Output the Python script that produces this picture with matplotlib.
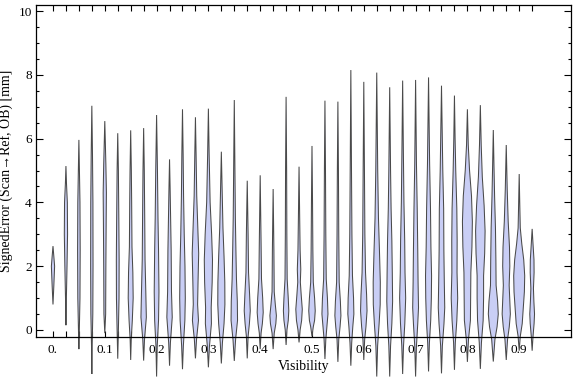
import matplotlib
matplotlib.use("Agg")
import matplotlib.pyplot as plt
from matplotlib.ticker import FixedLocator, NullFormatter

# ---- data ----
visibility = [0.000, 0.025, 0.050, 0.075, 0.100, 0.125, 0.150, 0.175, 0.200, 0.225,
              0.250, 0.275, 0.300, 0.325, 0.350, 0.375, 0.400, 0.425, 0.450, 0.475,
              0.500, 0.525, 0.550, 0.575, 0.600, 0.625, 0.650, 0.675, 0.700, 0.725,
              0.750, 0.775, 0.800, 0.825, 0.850, 0.875, 0.900, 0.925]

# error levels (mm) along each violin, bottom to top
error_levels = [
    [0.8, 1.4, 2.0, 2.3, 2.63],
    [0.15, 1.0, 2.0, 3.0, 4.0, 4.6, 5.14],
    [-0.6, 0.0, 1.0, 2.5, 4.0, 5.0, 5.96],
    [-1.38, -0.5, 0.5, 2.0, 4.0, 5.5, 7.03],
    [-0.1, 0.5, 2.0, 3.5, 4.3, 5.2, 6.55],
    [-0.9, 0.0, 1.0, 2.2, 3.5, 5.0, 6.17],
    [-0.94, -0.3, 0.3, 1.0, 1.8, 2.6, 4.0, 5.0, 6.26],
    [-0.96, -0.3, 0.4, 1.2, 2.2, 3.5, 5.0, 6.33],
    [-1.46, -0.5, 0.3, 1.2, 2.5, 3.5, 5.0, 6.74],
    [-1.12, -0.4, 0.4, 1.2, 2.5, 3.5, 4.5, 5.35],
    [-1.23, -0.5, 0.3, 1.0, 2.0, 3.0, 4.2, 5.5, 6.92],
    [-0.89, -0.3, 0.3, 0.8, 1.5, 2.4, 3.2, 4.2, 5.5, 6.67],
    [-1.17, -0.5, 0.2, 0.7, 1.5, 2.2, 3.0, 4.0, 5.5, 6.94],
    [-1.05, -0.4, 0.2, 0.8, 1.5, 2.3, 3.2, 4.3, 5.59],
    [-0.97, -0.3, 0.3, 0.9, 1.6, 2.5, 3.5, 5.0, 7.21],
    [-0.89, -0.2, 0.2, 0.6, 1.1, 1.8, 3.0, 4.68],
    [-0.6, -0.1, 0.2, 0.55, 1.0, 1.6, 2.8, 4.85],
    [-0.6, -0.1, 0.2, 0.45, 0.8, 1.2, 2.5, 4.42],
    [-0.47, 0.0, 0.3, 0.6, 1.0, 1.6, 3.0, 5.0, 7.31],
    [-0.39, 0.0, 0.3, 0.65, 1.1, 1.5, 1.9, 2.5, 3.5, 5.12],
    [-0.2, 0.1, 0.3, 0.6, 1.0, 1.5, 2.5, 4.0, 5.77],
    [-0.91, -0.3, 0.1, 0.5, 1.0, 1.6, 3.0, 5.0, 7.19],
    [-1.0, -0.3, 0.1, 0.45, 0.9, 1.5, 3.0, 5.0, 7.16],
    [-1.12, -0.4, 0.1, 0.5, 1.0, 1.7, 3.0, 5.0, 8.15],
    [-0.94, -0.3, 0.1, 0.6, 1.1, 1.8, 3.0, 5.0, 7.78],
    [-1.46, -0.5, 0.2, 0.8, 1.5, 2.5, 3.5, 5.0, 8.07],
    [-1.46, -0.5, 0.2, 0.9, 1.8, 2.8, 3.8, 5.0, 7.61],
    [-1.38, -0.5, 0.2, 1.0, 1.8, 2.8, 4.0, 5.5, 7.82],
    [-1.46, -0.5, 0.2, 0.7, 1.5, 2.5, 3.8, 5.2, 7.84],
    [-1.3, -0.4, 0.3, 1.0, 1.7, 2.6, 3.8, 5.2, 7.92],
    [-1.36, -0.5, 0.2, 0.7, 1.5, 2.5, 3.8, 5.0, 7.66],
    [-1.25, -0.4, 0.3, 1.0, 1.8, 2.8, 3.8, 5.0, 6.0, 7.35],
    [-1.0, -0.3, 0.3, 1.0, 1.8, 2.6, 3.4, 4.2, 5.0, 5.8, 6.92],
    [-1.22, -0.4, 0.3, 1.0, 1.7, 2.4, 3.1, 3.9, 4.8, 5.8, 7.05],
    [-0.99, -0.3, 0.1, 0.5, 0.9, 1.4, 2.2, 3.2, 4.2, 5.2, 6.27],
    [-0.94, -0.3, 0.1, 0.5, 1.0, 1.4, 2.0, 2.6, 3.4, 4.4, 5.8],
    [-0.65, -0.2, 0.2, 0.7, 1.2, 1.7, 2.2, 2.7, 3.2, 4.0, 4.89],
    [-0.65, -0.2, 0.2, 0.5, 0.9, 1.3, 1.8, 2.2, 2.7, 3.17],
]

# relative density (violin half-width) at each level
density = [
    [0, 0.8, 1.5, 0.8, 0],
    [0, 0.4, 1.0, 1.5, 1.3, 0.5, 0],
    [0, 0.4, 1.0, 1.2, 1.0, 0.5, 0],
    [0, 0.3, 0.9, 1.1, 1.0, 0.6, 0],
    [0, 0.8, 1.0, 1.3, 1.5, 1.0, 0],
    [0, 0.6, 1.2, 1.3, 1.0, 0.6, 0],
    [0, 0.5, 1.5, 2.3, 2.0, 1.2, 0.9, 0.6, 0],
    [0, 0.8, 2.5, 2.0, 1.3, 1.0, 0.6, 0],
    [0, 0.6, 1.8, 2.2, 1.8, 1.3, 0.8, 0],
    [0, 0.8, 2.5, 1.8, 1.5, 1.0, 0.5, 0],
    [0, 0.8, 2.2, 2.6, 2.3, 1.6, 1.0, 0.6, 0],
    [0, 1.0, 2.8, 2.0, 2.4, 3.0, 2.2, 1.2, 0.6, 0],
    [0, 1.0, 2.8, 2.6, 3.5, 3.8, 3.0, 1.6, 0.7, 0],
    [0, 1.0, 2.5, 3.3, 3.2, 2.5, 1.5, 0.8, 0],
    [0, 1.2, 3.0, 2.8, 2.0, 1.5, 1.0, 0.6, 0],
    [0, 0.8, 2.0, 2.8, 2.2, 1.2, 0.8, 0],
    [0, 0.8, 2.0, 2.8, 2.3, 1.2, 0.8, 0],
    [0, 1.0, 2.5, 3.0, 2.0, 1.0, 0.7, 0],
    [0, 0.8, 2.0, 2.5, 2.0, 1.0, 0.7, 0.5, 0],
    [0, 1.0, 2.4, 3.0, 2.0, 1.2, 1.6, 1.0, 0.6, 0],
    [0, 1.2, 2.4, 3.0, 2.4, 1.2, 0.8, 0.5, 0],
    [0, 0.8, 1.8, 2.8, 2.3, 1.2, 0.8, 0.5, 0],
    [0, 0.8, 2.0, 2.8, 2.3, 1.2, 0.8, 0.5, 0],
    [0, 0.8, 1.8, 2.8, 2.5, 1.5, 1.0, 0.6, 0],
    [0, 0.8, 2.0, 3.0, 2.6, 1.6, 1.0, 0.6, 0],
    [0, 0.8, 2.2, 3.2, 3.3, 2.5, 1.6, 0.9, 0],
    [0, 0.8, 2.0, 2.7, 2.4, 2.0, 1.3, 0.8, 0],
    [0, 0.8, 2.0, 2.8, 2.2, 1.9, 1.2, 0.7, 0],
    [0, 0.8, 2.0, 2.7, 2.3, 2.0, 1.5, 0.8, 0],
    [0, 0.8, 2.0, 2.6, 2.8, 2.2, 1.8, 1.0, 0],
    [0, 0.8, 2.3, 3.0, 2.6, 2.2, 2.0, 1.2, 0],
    [0, 0.8, 2.2, 3.0, 2.4, 2.5, 2.2, 1.2, 0.6, 0],
    [0, 1.0, 2.8, 3.0, 3.2, 4.2, 4.6, 3.8, 2.0, 0.8, 0],
    [0, 1.0, 2.6, 3.0, 3.0, 4.0, 4.4, 3.5, 1.8, 0.8, 0],
    [0, 1.5, 3.5, 4.6, 4.0, 2.6, 2.4, 2.0, 1.2, 0.6, 0],
    [0, 1.2, 2.8, 3.8, 3.2, 2.7, 3.3, 3.0, 1.8, 0.9, 0],
    [0, 1.0, 2.8, 3.8, 4.8, 5.1, 4.2, 2.4, 1.0, 0.5, 0],
    [0, 0.8, 1.8, 2.2, 1.6, 1.2, 1.8, 1.7, 0.8, 0],
]

x_tick_values = [0.0, 0.1, 0.2, 0.3, 0.4, 0.5, 0.6, 0.7, 0.8, 0.9]
x_tick_labels = ["0.", "0.1", "0.2", "0.3", "0.4", "0.5", "0.6", "0.7", "0.8", "0.9"]
y_tick_values = [0, 2, 4, 6, 8, 10]
y_tick_labels = ["0", "2", "4", "6", "8", "10"]

# ---- style ----
plt.rcParams["font.family"] = ["Liberation Serif", "DejaVu Serif"]
fill_color = "#c9cef5"
edge_color = "#4a4a4a"
width_scale = 1.0 / 480.0   # relative density unit -> x data units

fig = plt.figure(figsize=(5.76, 3.77), dpi=100)
ax = fig.add_axes([36 / 576, 1 - 337 / 377, (571 - 36) / 576, (337 - 5) / 377])

for pos, levels, dens in zip(visibility, error_levels, density):
    right = [pos + d * width_scale for d in dens]
    left = [pos - d * width_scale for d in dens]
    xs = right + left[::-1]
    ys = list(levels) + list(levels)[::-1]
    ax.fill(xs, ys, facecolor=fill_color, edgecolor=edge_color,
            linewidth=0.75, clip_on=False, zorder=2)

ax.set_xlim(-0.0328, 1.0)
ax.set_ylim(-0.22, 10.19)

ax.xaxis.set_major_locator(FixedLocator(x_tick_values))
ax.set_xticklabels(x_tick_labels)
ax.xaxis.set_minor_locator(FixedLocator(visibility))
ax.xaxis.set_minor_formatter(NullFormatter())

ax.yaxis.set_major_locator(FixedLocator(y_tick_values))
ax.set_yticklabels(y_tick_labels)
ax.yaxis.set_minor_locator(FixedLocator([v * 0.5 for v in range(0, 21)]))
ax.yaxis.set_minor_formatter(NullFormatter())

ax.tick_params(which="both", direction="in", top=True, right=True,
               labelsize=9.5, width=0.8, color="black")
ax.tick_params(axis="x", which="major", length=4, pad=5)
ax.tick_params(axis="x", which="minor", length=4)
ax.tick_params(axis="y", which="major", length=5, pad=3)
ax.tick_params(axis="y", which="minor", length=2.5)

for s in ax.spines.values():
    s.set_linewidth(0.9)
    s.set_zorder(3)

ax.set_xlabel("Visibility", fontsize=10, labelpad=3)
ax.set_ylabel("SignedError (Scan\u2192Ref, OB) [mm]", fontsize=10, labelpad=4)

fig.savefig("out.png", dpi=100)
